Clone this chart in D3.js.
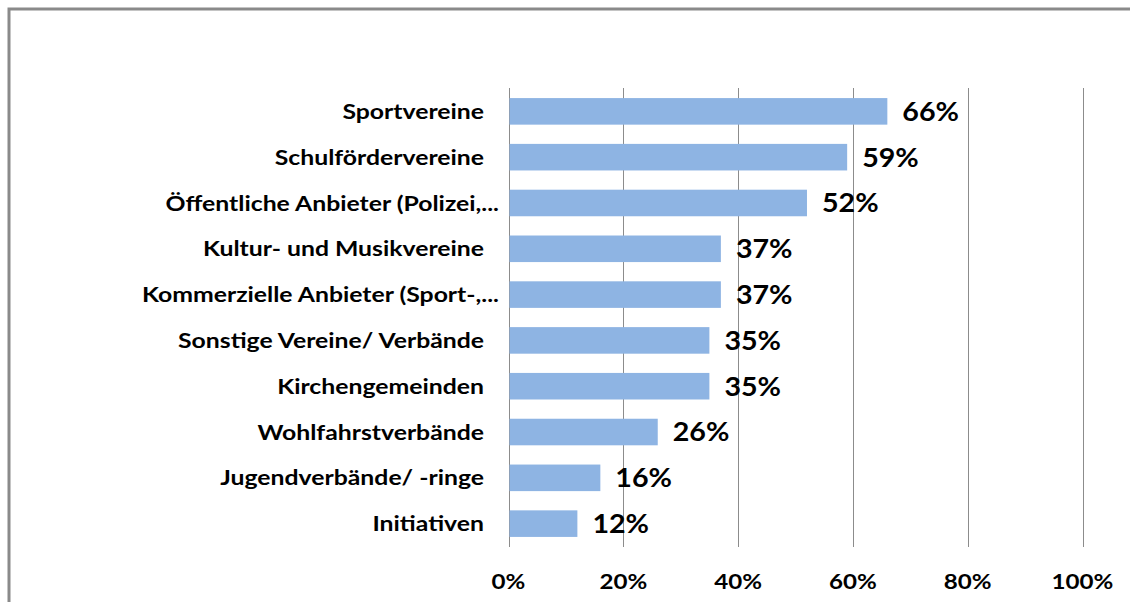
<!DOCTYPE html>
<html>
<head>
<meta charset="utf-8">
<script src="https://cdn.jsdelivr.net/npm/d3@7"></script>
<style>
  body { margin: 0; background: #fff; }
  text { font-family: Lato, "Open Sans", sans-serif; font-weight: bold; fill: #000; }
</style>
</head>
<body>
<script>
var categories = ["Sportvereine", "Schulfördervereine", "Öffentliche Anbieter (Polizei,...",
  "Kultur- und Musikvereine", "Kommerzielle Anbieter (Sport-,...", "Sonstige Vereine/ Verbände",
  "Kirchengemeinden", "Wohlfahrstverbände", "Jugendverbände/ -ringe", "Initiativen"];
var values = [0.66, 0.59, 0.52, 0.37, 0.37, 0.35, 0.35, 0.26, 0.16, 0.12];
var ticks = [0, 0.2, 0.4, 0.6, 0.8, 1];

var W = 1130, H = 602;
var svg = d3.select("body").append("svg")
    .attr("width", W)
    .attr("height", H);

// chart frame (bottom and right are cut off in the picture)
svg.append("path")
    .attr("d", "M9,602 L9,9 L1130,9")
    .attr("fill", "none")
    .attr("stroke", "#8a8a8a")
    .attr("stroke-width", 3);

var xScale = d3.scaleLinear().domain([0, 1]).range([508.5, 1082.5]);
var yScale = d3.scaleBand().domain(categories).range([88, 547])
    .paddingInner(0.42).paddingOuter(0.22);

// the picture is stretched sideways, so text gets a horizontal scale
function place(x, y, sx) {
  return "translate(" + x + "," + y + ") scale(" + sx + ",1)";
}

// vertical gridlines
svg.selectAll(".grid")
    .data(ticks)
    .enter()
    .append("line")
    .attr("class", "grid")
    .attr("x1", function(d) { return Math.round(xScale(d)) + 0.5; })
    .attr("x2", function(d) { return Math.round(xScale(d)) + 0.5; })
    .attr("y1", 88)
    .attr("y2", 547)
    .attr("stroke", "#8c8c8c")
    .attr("stroke-width", 1);

// bars
svg.selectAll(".bar")
    .data(values)
    .enter()
    .append("rect")
    .attr("class", "bar")
    .attr("x", xScale(0) + 1)
    .attr("y", function(d, i) { return yScale(categories[i]); })
    .attr("width", function(d) { return xScale(d) - xScale(0) - 1; })
    .attr("height", yScale.bandwidth())
    .attr("fill", "#8EB4E3");

// value labels
svg.selectAll(".val")
    .data(values)
    .enter()
    .append("text")
    .attr("class", "val")
    .attr("transform", function(d, i) {
      return place(xScale(d) + 15, yScale(categories[i]) + yScale.bandwidth() / 2, 1.1);
    })
    .attr("dy", "0.36em")
    .attr("font-size", "26px")
    .text(function(d) { return Math.round(d * 100) + "%"; });

// category labels, the "..." hangs past the right edge like in Excel
svg.selectAll(".cat")
    .data(categories)
    .enter()
    .append("text")
    .attr("class", "cat")
    .attr("text-anchor", "end")
    .attr("transform", function(d) {
      var x = d.slice(-3) == "..." ? 499 : 484;
      return place(x, yScale(d) + yScale.bandwidth() / 2, 1.18);
    })
    .attr("dy", "0.36em")
    .attr("font-size", "21px")
    .text(function(d) { return d; });

// x axis tick labels
svg.selectAll(".tick-label")
    .data(ticks)
    .enter()
    .append("text")
    .attr("class", "tick-label")
    .attr("text-anchor", "middle")
    .attr("transform", function(d) { return place(xScale(d), 589, 1.15); })
    .attr("font-size", "21px")
    .text(d3.format(".0%"));
</script>
</body>
</html>
